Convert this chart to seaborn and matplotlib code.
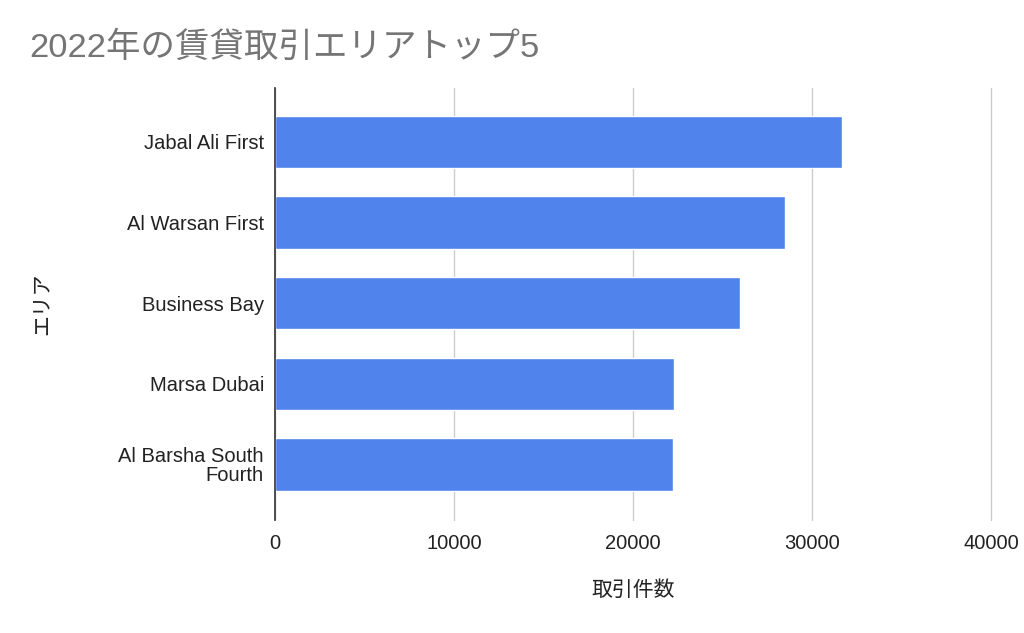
import matplotlib
matplotlib.use("Agg")
import matplotlib.pyplot as plt
import seaborn as sns
import pandas as pd

areas = ["Jabal Ali First", "Al Warsan First", "Business Bay", "Marsa Dubai", "Al Barsha South\nFourth"]
counts = [31680, 28500, 25950, 22300, 22250]
xticks = [0, 10000, 20000, 30000, 40000]

df = pd.DataFrame({"エリア": areas, "取引件数": counts})

sns.set_theme(style="white")
plt.rcParams['font.family'] = ['Liberation Sans', 'Noto Sans CJK JP', 'DejaVu Sans']

fig = plt.figure(figsize=(10.24, 6.33), dpi=100)
ax = fig.add_axes([0.2686, 0.1785, 0.6992, 0.6825])

sns.barplot(data=df, x="取引件数", y="エリア", orient="h", color="#5083ec",
            saturation=1, width=0.65, ax=ax, zorder=3)

ax.set_xlim(0, 40000)
ax.set_ylim(4.69, -0.67)
ax.set_xticks(xticks)
ax.set_xticklabels([str(t) for t in xticks], fontsize=14.5, color="#222222")
ax.tick_params(axis='y', labelsize=14.5, labelcolor="#222222", length=0, pad=8)
ax.tick_params(axis='x', length=0, pad=10)
for lbl in ax.get_yticklabels():
    lbl.set_horizontalalignment('right')
    lbl.set_linespacing(1.0)
ax.grid(axis='x', color="#cccccc", linewidth=1, zorder=0)
for line in ax.get_xgridlines():
    line.set_clip_on(False)
for s in ["top", "right", "bottom"]:
    ax.spines[s].set_visible(False)
ax.spines["left"].set_color("#333333")
ax.spines["left"].set_linewidth(1.2)
ax.spines["left"].set_zorder(4)

ax.set_xlabel("取引件数", fontsize=15, color="#222222", labelpad=20)
ax.set_ylabel("エリア", fontsize=15, color="#222222", labelpad=0)
ax.yaxis.set_label_coords(-0.312, 0.5)

fig.text(0.029, 0.925, "2022年の賃貸取引エリアトップ5", fontsize=24.8, color="#757575",
         ha="left", va="center")

fig.savefig("out.png", dpi=100)
